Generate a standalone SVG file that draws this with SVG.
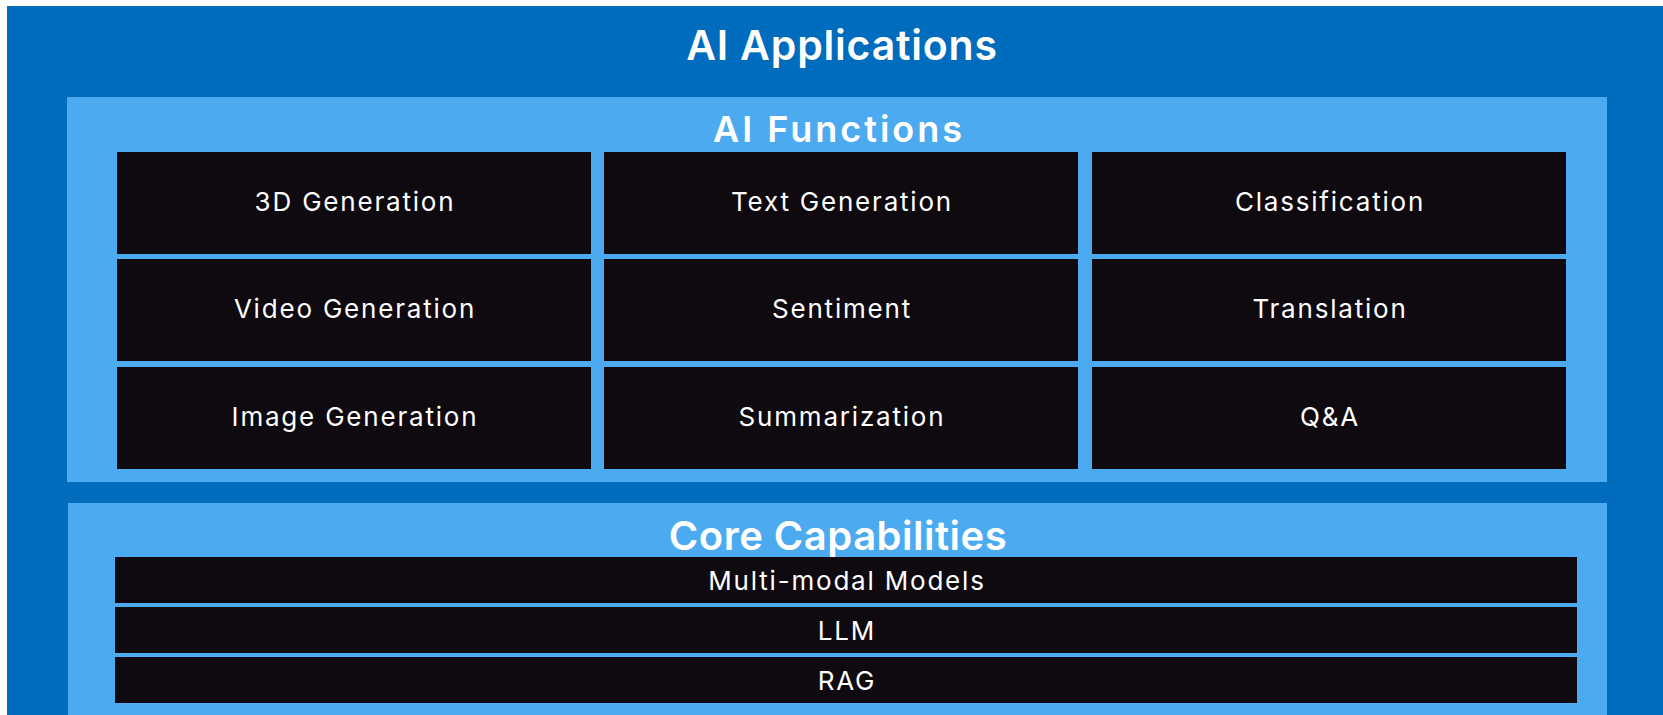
<svg xmlns="http://www.w3.org/2000/svg" width="1663" height="715" viewBox="0 0 1663 715">
  <style>
    .outer { fill: #006CBE; }
    .panel { fill: #4CAAF0; }
    .cell { fill: #0E0A10; }
    .title { font-family: Inter, "Open Sans", "Liberation Sans", sans-serif; font-weight: 600; fill: #FFFFFF; text-anchor: middle; }
    .label { font-family: Inter, "Open Sans", "Liberation Sans", sans-serif; font-weight: 400; fill: #FFFFFF; text-anchor: middle; font-size: 26px; letter-spacing: 1.8px; }
  </style>
  <rect width="1663" height="715" fill="#FFFFFF"/>

  <!-- outer frame -->
  <g id="ai-applications">
    <rect class="outer" x="7" y="6" width="1656" height="709"/>
    <text class="title" x="842" y="60" font-size="41" letter-spacing="0.8">AI Applications</text>
  </g>

  <!-- AI Functions panel -->
  <g id="ai-functions">
    <rect class="panel" x="67" y="97" width="1540" height="385"/>
    <text class="title" x="839" y="142" font-size="36" letter-spacing="3">AI Functions</text>
  </g>

  <g id="fn-3d-generation">
    <rect class="cell" x="117" y="152" width="474" height="102"/>
    <text class="label" x="355" y="211">3D Generation</text>
  </g>
  <g id="fn-text-generation">
    <rect class="cell" x="604" y="152" width="474" height="102"/>
    <text class="label" x="842" y="211">Text Generation</text>
  </g>
  <g id="fn-classification">
    <rect class="cell" x="1092" y="152" width="474" height="102"/>
    <text class="label" x="1330" y="211">Classification</text>
  </g>

  <g id="fn-video-generation">
    <rect class="cell" x="117" y="259" width="474" height="102"/>
    <text class="label" x="355" y="318">Video Generation</text>
  </g>
  <g id="fn-sentiment">
    <rect class="cell" x="604" y="259" width="474" height="102"/>
    <text class="label" x="842" y="318">Sentiment</text>
  </g>
  <g id="fn-translation">
    <rect class="cell" x="1092" y="259" width="474" height="102"/>
    <text class="label" x="1330" y="318">Translation</text>
  </g>

  <g id="fn-image-generation">
    <rect class="cell" x="117" y="367" width="474" height="102"/>
    <text class="label" x="355" y="426">Image Generation</text>
  </g>
  <g id="fn-summarization">
    <rect class="cell" x="604" y="367" width="474" height="102"/>
    <text class="label" x="842" y="426">Summarization</text>
  </g>
  <g id="fn-qa">
    <rect class="cell" x="1092" y="367" width="474" height="102"/>
    <text class="label" x="1330" y="426">Q&amp;A</text>
  </g>

  <!-- Core Capabilities panel -->
  <g id="core-capabilities">
    <rect class="panel" x="68" y="503" width="1539" height="212"/>
    <text class="title" x="838" y="550" font-size="40" letter-spacing="0.5">Core Capabilities</text>
  </g>

  <g id="cap-multimodal">
    <rect class="cell" x="115" y="557" width="1462" height="46"/>
    <text class="label" x="847" y="590">Multi-modal Models</text>
  </g>
  <g id="cap-llm">
    <rect class="cell" x="115" y="607" width="1462" height="46"/>
    <text class="label" x="847" y="640">LLM</text>
  </g>
  <g id="cap-rag">
    <rect class="cell" x="115" y="657" width="1462" height="46"/>
    <text class="label" x="847" y="690">RAG</text>
  </g>

  <g id="connectors"/>
</svg>
